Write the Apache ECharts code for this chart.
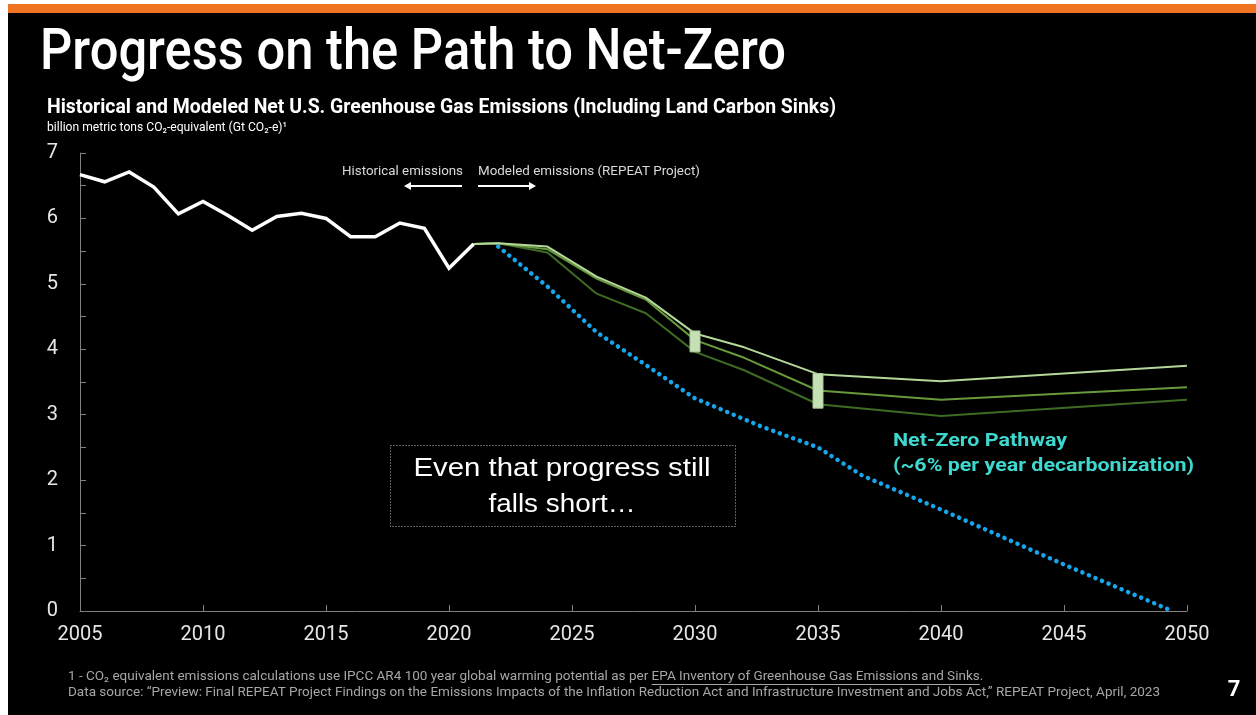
<!DOCTYPE html>
<html>
<head>
<meta charset="utf-8">
<script src="https://cdn.jsdelivr.net/npm/echarts@6/dist/echarts.min.js"></script>
<style>
html,body{margin:0;padding:0;background:#ffffff;}
#chart{width:1256px;height:715px;}
</style>
</head>
<body>
<div id="chart"></div>
<script>
// ---- data ----
const historicalYears = [2005,2006,2007,2008,2009,2010,2011,2012,2013,2014,2015,2016,2017,2018,2019,2020,2021];
const historicalValues = [6.67,6.56,6.71,6.48,6.07,6.26,6.05,5.82,6.03,6.08,6.00,5.72,5.72,5.93,5.85,5.24,5.61];
const modeledYears = [2021,2022,2024,2026,2028,2030,2032,2035,2040,2050];
const modeledHigh = [5.61,5.62,5.57,5.11,4.79,4.24,4.03,3.62,3.51,3.75];
const modeledMid  = [5.61,5.62,5.53,5.08,4.76,4.14,3.87,3.37,3.23,3.42];
const modeledLow  = [5.61,5.62,5.48,4.85,4.55,3.96,3.68,3.16,2.98,3.23];
const netZeroYears = [2022,2024,2026,2028,2030,2032.7,2035,2036.8,2040,2045,2049.4];
const netZeroValues = [5.57,4.96,4.26,3.76,3.25,2.82,2.50,2.07,1.55,0.71,0.0];
const rangeYears = [2030,2035];
const rangeLow = [3.96,3.10];
const rangeHigh = [4.28,3.63];
const xTicks = {min:2005,max:2050,interval:5};
const yTicks = {min:0,max:7,interval:1};

const zip = (xs, ys) => xs.map((x,i)=>[x, ys[i]]);

// ---- text helper (fit to measured width) ----
const mctx = document.createElement('canvas').getContext('2d');
function measure(text, font){ mctx.font = font; return mctx.measureText(text).width; }
function txt(x, y, text, size, weight, family, color, targetW, align){
  const font = `${weight} ${size}px ${family}`;
  const w = measure(text, font);
  const sx = targetW ? targetW / w : 1;
  return {
    type:'text', x:x, y:y, scaleX:sx, silent:true,
    style:{text:text, fill:color, font:font, align:align||'left', verticalAlign:'middle'}
  };
}

const chart = echarts.init(document.getElementById('chart'));

const graphics = [];
// slide background
graphics.push({type:'rect', shape:{x:8,y:4,width:1248,height:711}, style:{fill:'#000000'}, z:-10, silent:true});
graphics.push({type:'rect', shape:{x:8,y:4,width:1248,height:9}, style:{fill:'#ef7321'}, z:-9, silent:true});
// title
graphics.push(txt(40, 54, 'Progress on the Path to Net-Zero', 58, '500', 'Roboto', '#ffffff', 746));
graphics.push(txt(47, 108, 'Historical and Modeled Net U.S. Greenhouse Gas Emissions (Including Land Carbon Sinks)', 20, 'bold', 'Roboto', '#ffffff', 789));
graphics.push(txt(47, 128, 'billion metric tons CO\u2082-equivalent (Gt CO\u2082-e)\u00b9', 13, 'normal', 'Roboto', '#ffffff', 240));
// historical / modeled annotation
graphics.push(txt(463, 172, 'Historical emissions', 13, 'normal', 'Roboto', '#d9d9d9', 121, 'right'));
graphics.push(txt(478, 172, 'Modeled emissions (REPEAT Project)', 13, 'normal', 'Roboto', '#d9d9d9', 222));
graphics.push({type:'line', shape:{x1:462,y1:186,x2:409,y2:186}, style:{stroke:'#ffffff', lineWidth:2}, silent:true});
graphics.push({type:'polygon', shape:{points:[[404,186],[411,182],[411,190]]}, style:{fill:'#ffffff'}, silent:true});
graphics.push({type:'line', shape:{x1:478,y1:186,x2:531,y2:186}, style:{stroke:'#ffffff', lineWidth:2}, silent:true});
graphics.push({type:'polygon', shape:{points:[[536,186],[529,182],[529,190]]}, style:{fill:'#ffffff'}, silent:true});
// callout box
graphics.push({type:'rect', shape:{x:390.5,y:445.5,width:345,height:81}, style:{fill:'none', stroke:'#bfbfbf', lineWidth:1, lineDash:[1,2]}, silent:true});
graphics.push(txt(562, 469, 'Even that progress still', 26, 'normal', 'Liberation Sans', '#ffffff', 297, 'center'));
graphics.push(txt(562, 505, 'falls short\u2026', 26, 'normal', 'Liberation Sans', '#ffffff', 147, 'center'));
// net zero label
graphics.push(txt(893, 441, 'Net-Zero Pathway', 18, 'bold', 'Roboto', '#3fd8cf', 174));
graphics.push(txt(893, 466, '(~6% per year decarbonization)', 18, 'bold', 'Roboto', '#3fd8cf', 301));
// footnotes
const fnFont = 'Roboto';
const fn1a = '1 - CO\u2082 equivalent emissions calculations use IPCC AR4 100 year global warming potential as per ';
const fn1b = 'EPA Inventory of Greenhouse Gas Emissions and Sinks';
const fn1c = '.';
const fn2 = 'Data source: \u201cPreview: Final REPEAT Project Findings on the Emissions Impacts of the Inflation Reduction Act and Infrastructure Investment and Jobs Act,\u201d REPEAT Project, April, 2023';
const f2 = txt(68, 693, fn2, 13, 'normal', fnFont, '#a6a6a6', 1092);
graphics.push(f2);
const sx = f2.scaleX;
const fontFn = `normal 13px ${fnFont}`;
const wA = measure(fn1a, fontFn)*sx, wB = measure(fn1b, fontFn)*sx;
graphics.push(Object.assign(txt(68, 677, fn1a, 13, 'normal', fnFont, '#a6a6a6'), {scaleX:sx}));
graphics.push(Object.assign(txt(68+wA, 677, fn1b, 13, 'normal', fnFont, '#a6a6a6'), {scaleX:sx}));
graphics.push(Object.assign(txt(68+wA+wB, 677, fn1c, 13, 'normal', fnFont, '#a6a6a6'), {scaleX:sx}));
graphics.push({type:'line', shape:{x1:68+wA, y1:684.5, x2:68+wA+wB, y2:684.5}, style:{stroke:'#a6a6a6', lineWidth:1}, silent:true});
// page number
graphics.push(txt(1234, 690, '7', 22, 'bold', 'Roboto', '#ffffff', null, 'center'));

const lineBase = {type:'line', showSymbol:false, symbol:'none', silent:true, animation:false};

const option = {
  backgroundColor:'transparent',
  animation:false,
  grid:{left:80, right:69, top:153, bottom:104, containLabel:false},
  xAxis:{
    type:'value', min:xTicks.min, max:xTicks.max, interval:xTicks.interval,
    axisLine:{lineStyle:{color:'#808080', width:1}},
    axisTick:{show:true, inside:true, length:6, lineStyle:{color:'#808080'}},
    axisLabel:{color:'#e6e6e6', fontSize:20, fontFamily:'Roboto', margin:14, formatter:function(v){return String(v);}},
    splitLine:{show:false}
  },
  yAxis:{
    type:'value', min:yTicks.min, max:yTicks.max, interval:yTicks.interval,
    axisLine:{show:true, lineStyle:{color:'#808080', width:1}},
    axisTick:{show:true, inside:true, length:6, lineStyle:{color:'#808080'}},
    minorTick:{show:true, splitNumber:2, length:6, lineStyle:{color:'#808080'}},
    axisLabel:{color:'#e6e6e6', fontSize:20, fontFamily:'Roboto', margin:22},
    splitLine:{show:false}
  },
  series:[
    Object.assign({}, lineBase, {name:'Low', data:zip(modeledYears, modeledLow), lineStyle:{color:'#3e6b24', width:2}, z:3}),
    Object.assign({}, lineBase, {name:'Mid', data:zip(modeledYears, modeledMid), lineStyle:{color:'#689a3c', width:2}, z:4}),
    Object.assign({}, lineBase, {name:'High', data:zip(modeledYears, modeledHigh), lineStyle:{color:'#b4d79a', width:2}, z:5}),
    Object.assign({}, lineBase, {name:'Historical', data:zip(historicalYears, historicalValues), lineStyle:{color:'#ffffff', width:3.5, join:'miter'}, z:6}),
    Object.assign({}, lineBase, {name:'Net-Zero', data:zip(netZeroYears, netZeroValues), lineStyle:{color:'#16a6ec', width:4.5, type:[0.1,7], cap:'round'}, z:6}),
    {
      type:'custom', name:'Range', silent:true, z:8,
      data: rangeYears.map((y,i)=>[y, rangeLow[i], rangeHigh[i]]),
      renderItem:function(params, api){
        const lo = api.coord([api.value(0), api.value(1)]);
        const hi = api.coord([api.value(0), api.value(2)]);
        return {type:'rect', shape:{x:lo[0]-5, y:hi[1], width:10, height:lo[1]-hi[1]},
          style:{fill:'#c5e0b4', stroke:'#a9c99a', lineWidth:1}};
      }
    }
  ],
  graphic: graphics
};
chart.setOption(option);
</script>
</body>
</html>
